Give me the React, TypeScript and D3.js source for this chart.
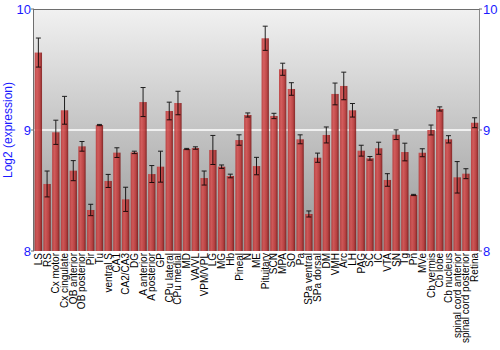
import React from "react";
import * as d3 from "d3";

const categories = [
  "LS", "RS", "Cx motor", "Cx cingulate", "OB anterior", "OB posterior", "Pir", "Tu",
  "ventral S", "CA1", "CA2/CA3", "DG", "A anterior", "A posterior", "GP", "CPu lateral",
  "CPu medial", "MD", "VA/VL", "VPM/VPL", "LG", "MG", "Hb", "Pineal", "N", "ME",
  "Pituitary", "SCN", "MPA", "SO", "Pa", "SPa ventral", "SPa dorsal", "DM", "VMH", "Arc",
  "LH", "PAG", "SC", "IC", "VTA", "SN", "Tg", "Pn", "MVe", "Cb vermis", "Cb lobe",
  "Cb nucleus", "spinal cord anterior", "spinal cord posterior", "Retina",
];

const values = [
  9.64, 8.554, 8.981, 9.163, 8.664, 8.865, 8.339, 9.041,
  8.579, 8.813, 8.427, 8.815, 9.231, 8.636, 8.697, 9.157,
  9.223, 8.843, 8.851, 8.603, 8.835, 8.697, 8.62, 8.917, 9.124, 8.702,
  9.758, 9.116, 9.502, 9.339, 8.923, 8.306, 8.771, 8.959, 9.298, 9.364,
  9.163, 8.829, 8.766, 8.849, 8.587, 8.961, 8.818, 8.463, 8.812, 9.0, 9.174,
  8.923, 8.609, 8.639, 9.06,
];

const errors = [
  0.12, 0.107, 0.1, 0.115, 0.083, 0.04, 0.047, 0.005,
  0.054, 0.04, 0.1, 0.01, 0.12, 0.07, 0.128, 0.073,
  0.097, 0.005, 0.01, 0.058, 0.12, 0.014, 0.015, 0.043, 0.017, 0.072,
  0.1, 0.022, 0.05, 0.052, 0.037, 0.025, 0.038, 0.066, 0.09, 0.114,
  0.056, 0.045, 0.015, 0.05, 0.052, 0.04, 0.073, 0.005, 0.033, 0.041, 0.017,
  0.03, 0.13, 0.041, 0.041,
];

const yTicks = [8, 9, 10];
const yDomain = [8, 10];
const yTitle = "Log2 (expression)";

export default function App() {
  const W = 500, H = 350;
  const left = 34, right = 479, top = 9, bottom = 251;
  const x = d3.scaleBand<string>().domain(categories).range([left, right]).paddingInner(0.16).paddingOuter(0.08);
  const y = d3.scaleLinear().domain(yDomain).range([bottom, top]);
  const bw = x.bandwidth();
  const font = "'Liberation Sans', Arial, sans-serif";
  const blue = "#1a1aff";

  return (
    <svg width={W} height={H} style={{ position: "absolute", left: 0, top: 0 }} fontFamily={font}>
      <defs>
        <linearGradient id="bg" x1="0" y1="0" x2="0" y2="1">
          <stop offset="0" stopColor="#f1f1f1" />
          <stop offset="1" stopColor="#969696" />
        </linearGradient>
        <linearGradient id="bar" x1="0" y1="0" x2="1" y2="0">
          <stop offset="0" stopColor="#b83434" />
          <stop offset="0.3" stopColor="#d44e4e" />
          <stop offset="0.7" stopColor="#bb3535" />
          <stop offset="1" stopColor="#7a1414" />
        </linearGradient>
      </defs>
      <rect x={left} y={top} width={right - left} height={bottom - top} fill="url(#bg)" />
      <line x1={left} x2={right} y1={y(9)} y2={y(9)} stroke="#ffffff" strokeWidth={1.5} />
      {categories.map((c, i) => (
        <rect key={c} x={x(c)} y={y(values[i])} width={bw} height={bottom - y(values[i])}
          fill="url(#bar)" fillOpacity={0.88} />
      ))}
      {categories.map((c, i) => {
        const cx = (x(c) as number) + bw / 2;
        const y1 = y(values[i] + errors[i]);
        const y2 = y(values[i] - errors[i]);
        return (
          <g key={"e" + c} stroke="#000" strokeWidth={1} opacity={0.85}>
            <line x1={cx} x2={cx} y1={y1} y2={y2} />
            <line x1={cx - 2.5} x2={cx + 2.5} y1={y1} y2={y1} />
            <line x1={cx - 2.5} x2={cx + 2.5} y1={y2} y2={y2} />
          </g>
        );
      })}
      <line x1={left} x2={right} y1={top + 0.5} y2={top + 0.5} stroke="#6e6e6e" />
      <line x1={left - 0.5} x2={left - 0.5} y1={top} y2={bottom} stroke="#6e6e6e" />
      <line x1={right + 0.5} x2={right + 0.5} y1={top} y2={bottom} stroke="#8a8a8a" />
      {yTicks.map((t) => (
        <g key={"t" + t}>
          <line x1={left - 3} x2={left} y1={y(t)} y2={y(t)} stroke="#6e6e6e" />
          <line x1={right} x2={right + 3} y1={y(t)} y2={y(t)} stroke="#6e6e6e" />
          <text x={left - 3} y={y(t)} dy="0.35em" textAnchor="end" fontSize={13} fill={blue}>{t}</text>
          <text x={right + 4} y={y(t)} dy="0.35em" textAnchor="start" fontSize={13} fill={blue}>{t}</text>
        </g>
      ))}
      <text transform={`translate(12,${(top + bottom) / 2}) rotate(-90)`} textAnchor="middle" fontSize={12} fill={blue}>{yTitle}</text>
      {categories.map((c) => {
        const cx = (x(c) as number) + bw / 2;
        return (
          <text key={"l" + c} transform={`translate(${cx},${bottom + 2}) rotate(-90)`} textAnchor="end" dy="0.35em" fontSize={10} fill="#000">{c}</text>
        );
      })}
    </svg>
  );
}
